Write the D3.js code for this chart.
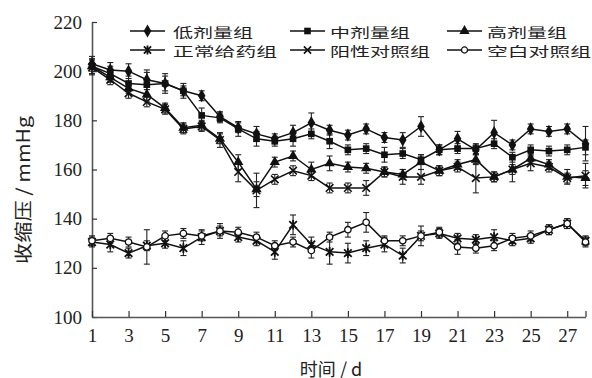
<!DOCTYPE html>
<html>
<head>
<meta charset="utf-8">
<script src="https://cdn.jsdelivr.net/npm/d3@7"></script>
<style>
  body { margin: 0; background: #fff; }
  svg { display: block; }
</style>
</head>
<body>
<div id="chart"></div>
<script>
// days of treatment
const days = [1, 2, 3, 4, 5, 6, 7, 8, 9, 10, 11, 12, 13, 14, 15, 16, 17, 18, 19, 20, 21, 22, 23, 24, 25, 26, 27, 28];
const xTicks = [1, 3, 5, 7, 9, 11, 13, 15, 17, 19, 21, 23, 25, 27, 28];
const yTicks = [100, 120, 140, 160, 180, 200, 220];

const seriesNames = ['低剂量组', '中剂量组', '高剂量组', '正常给药组', '阳性对照组', '空白对照组'];

// systolic pressure, mmHg (mean)
const lowDose  = [203, 200.5, 200, 196.5, 195, 192, 190, 181.5, 177, 174.5, 172.5, 175, 179, 176, 174, 176.5, 173, 172, 177.5, 168, 172.5, 168, 175, 170, 176.5, 175.5, 176.5, 170.5];
const midDose  = [202, 199, 195, 194.5, 195, 192, 182, 181, 176.5, 172.5, 171.5, 172.5, 174.5, 171.5, 168, 168.5, 166, 166.5, 164, 168, 168.5, 168.5, 170.5, 165, 168, 167.5, 168, 169];
const highDose = [202, 197.5, 193, 190.5, 185, 177, 178, 172.5, 163, 152, 163, 165.5, 160, 162.5, 161, 160.5, 159, 158, 163, 159.5, 162, 164, 157, 160, 164.5, 162, 157, 156.5];
const normalDrug = [130.5, 129.5, 126, 129, 130, 128, 132.5, 135, 132.5, 131, 126.5, 137.5, 129.5, 126.5, 126, 128, 129.5, 125, 133, 134, 132, 131.5, 132.5, 131, 132, 135.5, 138, 131];
const positive = [201.5, 196.5, 191, 187.5, 184.5, 176.5, 177.5, 172, 159, 151.5, 156, 159.5, 157.5, 152.5, 152.5, 152.5, 159, 157, 157, 159.5, 161, 156.5, 157, 160, 162.5, 161, 156.5, 157.5];
const blank    = [131, 132, 130.5, 128.5, 133, 134, 133, 135, 134.5, 132.5, 129, 130.5, 127, 132.5, 135.5, 138.5, 131, 131, 133, 134.5, 128.5, 128, 129, 132, 133, 135.5, 138, 130.5];

// error bars (sd)
const lowDoseSd  = [3, 3, 3, 4, 3, 3, 2, 2, 2, 3, 2, 3, 4, 2, 2, 2, 2, 3, 4, 2, 3, 2, 5, 2, 2, 2, 2, 7];
const midDoseSd  = [3, 3, 3, 5, 4, 2, 3, 2, 3, 3, 2, 3, 2, 3, 2, 2, 3, 2, 2, 2, 2, 2, 2, 2, 2, 2, 2, 3];
const highDoseSd = [3, 2, 2, 3, 2, 2, 2, 2, 3, 3, 2, 2, 3, 3, 2, 2, 2, 2, 3, 2, 2, 2, 2, 2, 2, 2, 3, 3];
const normalDrugSd = [2, 3, 2, 2, 2, 3, 3, 3, 2, 2, 3, 4, 3, 5, 4, 3, 3, 3, 2, 2, 2, 2, 3, 2, 2, 2, 2, 2];
const positiveSd = [3, 2, 2, 2, 2, 2, 2, 3, 4, 7, 2, 2, 2, 2, 2, 3, 2, 3, 3, 2, 2, 6, 2, 5, 3, 2, 2, 5];
const blankSd    = [2, 2, 2, 7, 2, 2, 2, 2, 2, 2, 2, 2, 3, 2, 3, 4, 2, 2, 4, 2, 3, 2, 2, 2, 2, 2, 2, 2];

const seriesValues = [lowDose, midDose, highDose, normalDrug, positive, blank];
const seriesSd = [lowDoseSd, midDoseSd, highDoseSd, normalDrugSd, positiveSd, blankSd];
const markerTypes = ['diamond', 'square', 'triangle', 'asterisk', 'times', 'circle'];

const width = 592;
const height = 378;

const svg = d3.select('#chart')
  .append('svg')
  .attr('width', width)
  .attr('height', height);

const x = d3.scaleLinear().domain([1, 28]).range([92, 585.5]);
const y = d3.scaleLinear().domain([100, 220]).range([317, 22]);

const ink = '#111';
const cjk = '"Noto Sans CJK SC", sans-serif';

// axes
const yAxis = svg.append('g')
  .attr('transform', `translate(${x(1)},0)`)
  .call(d3.axisLeft(y).tickValues(yTicks).tickSizeInner(-5).tickSizeOuter(0).tickPadding(10));

const xAxis = svg.append('g')
  .attr('transform', `translate(0,${y(100)})`)
  .call(d3.axisBottom(x).tickValues(xTicks).tickSizeInner(-6).tickSizeOuter(0).tickPadding(12)
    .tickFormat((d) => d === 28 ? '' : d));

[yAxis, xAxis].forEach((g) => {
  g.select('.domain').attr('stroke', '#555').attr('stroke-width', 1.6);
  g.selectAll('.tick line').attr('stroke', '#333').attr('stroke-width', 1.2);
  g.selectAll('.tick text')
    .attr('fill', '#222')
    .style('font-family', '"Liberation Serif", "DejaVu Serif", serif')
    .style('font-size', '19px');
});

// axis titles
svg.append('text')
  .attr('transform', `translate(25,190) rotate(-90)`)
  .attr('text-anchor', 'middle')
  .attr('dominant-baseline', 'middle')
  .attr('fill', '#222')
  .attr('textLength', 148)
  .attr('lengthAdjust', 'spacingAndGlyphs')
  .style('font-family', cjk)
  .style('font-size', '18px')
  .text('收缩压 / mmHg');

svg.append('text')
  .attr('x', 331)
  .attr('y', 376)
  .attr('text-anchor', 'middle')
  .attr('fill', '#222')
  .style('font-family', cjk)
  .style('font-size', '18px')
  .text('时间 / d');

// marker drawing
function drawMarker(sel, type, r) {
  if (type === 'asterisk') {
    sel.append('path')
      .attr('d', `M${-r},${-r}L${r},${r}M${-r},${r}L${r},${-r}M0,${-r - 1}L0,${r + 1}`)
      .attr('fill', 'none')
      .attr('stroke', ink)
      .attr('stroke-width', 1.8);
  } else if (type === 'times') {
    sel.append('path')
      .attr('d', `M${-r},${-r}L${r},${r}M${-r},${r}L${r},${-r}`)
      .attr('fill', 'none')
      .attr('stroke', ink)
      .attr('stroke-width', 1.6);
  } else if (type === 'circle') {
    sel.append('circle')
      .attr('r', r * 0.85)
      .attr('fill', '#fff')
      .attr('stroke', ink)
      .attr('stroke-width', 1.3);
  } else {
    const sym = { diamond: d3.symbolDiamond, square: d3.symbolSquare, triangle: d3.symbolTriangle }[type];
    const size = { diamond: 50, square: 44, triangle: 46 }[type];
    sel.append('path')
      .attr('d', d3.symbol().type(sym).size(size)())
      .attr('fill', ink);
  }
}

const line = d3.line()
  .x((d) => x(d.day))
  .y((d) => y(d.value));

const seriesData = seriesValues.map((vals, i) => days.map((day, j) => ({
  day, value: vals[j], sd: seriesSd[i][j], type: markerTypes[i],
})));

// lines
svg.append('g')
  .selectAll('path')
  .data(seriesData)
  .enter()
  .append('path')
    .attr('d', line)
    .attr('fill', 'none')
    .attr('stroke', ink)
    .attr('stroke-width', 1.5);

// error bars
const errG = svg.append('g')
  .attr('stroke', '#222')
  .attr('stroke-width', 1.1);

seriesData.forEach((s) => {
  const bars = errG.selectAll(null)
    .data(s)
    .enter()
    .append('g');
  bars.append('line')
    .attr('x1', (d) => x(d.day)).attr('x2', (d) => x(d.day))
    .attr('y1', (d) => y(d.value - d.sd)).attr('y2', (d) => y(d.value + d.sd));
  bars.append('line')
    .attr('x1', (d) => x(d.day) - 3).attr('x2', (d) => x(d.day) + 3)
    .attr('y1', (d) => y(d.value + d.sd)).attr('y2', (d) => y(d.value + d.sd));
  bars.append('line')
    .attr('x1', (d) => x(d.day) - 3).attr('x2', (d) => x(d.day) + 3)
    .attr('y1', (d) => y(d.value - d.sd)).attr('y2', (d) => y(d.value - d.sd));
});

// markers
seriesData.forEach((s) => {
  svg.append('g')
    .selectAll('g')
    .data(s)
    .enter()
    .append('g')
      .attr('transform', (d) => `translate(${x(d.day)},${y(d.value)})`)
      .each(function (d) { drawMarker(d3.select(this), d.type, 3.8); });
});

// legend
const legendCols = [[130, 173], [290, 330], [447, 487]];
const legendRows = [31, 50];
const legendTextLen = [80, 80, 80, 104, 100, 104];

seriesNames.forEach((name, i) => {
  const col = legendCols[i % 3];
  const row = legendRows[Math.floor(i / 3)];
  const g = svg.append('g');
  g.append('line')
    .attr('x1', col[0]).attr('x2', col[0] + 35)
    .attr('y1', row).attr('y2', row)
    .attr('stroke', ink).attr('stroke-width', 1.4);
  drawMarker(g.append('g').attr('transform', `translate(${col[0] + 17.5},${row})`), markerTypes[i], 3.6);
  g.append('text')
    .attr('x', col[1])
    .attr('y', row)
    .attr('dominant-baseline', 'central')
    .attr('fill', '#222')
    .attr('textLength', legendTextLen[i])
    .attr('lengthAdjust', 'spacingAndGlyphs')
    .style('font-family', cjk)
    .style('font-size', '13px')
    .text(name);
});
</script>
</body>
</html>
